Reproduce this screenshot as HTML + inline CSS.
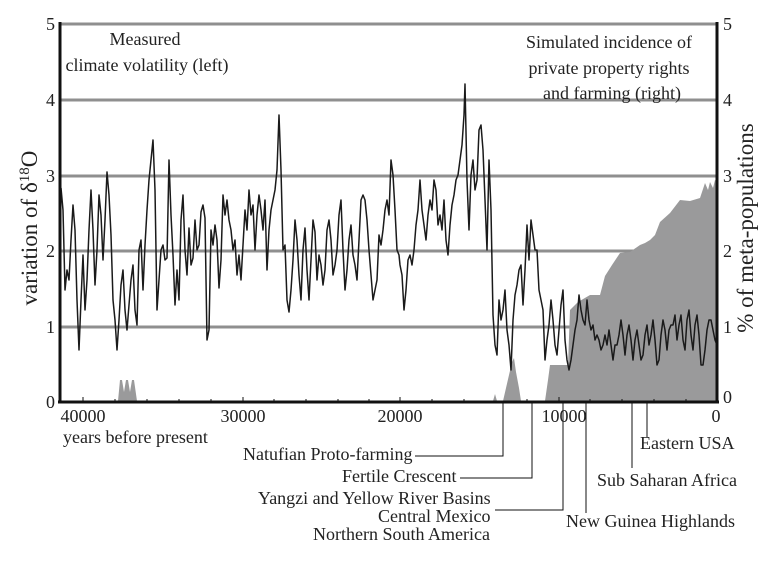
<!DOCTYPE html>
<html><head><meta charset="utf-8"><style>
html,body{margin:0;padding:0;background:#fff;width:772px;height:568px;overflow:hidden}
svg{display:block}
svg text{font-family:"Liberation Serif","Times New Roman","DejaVu Serif",serif;fill:#222}
</style></head><body>
<svg width="772" height="568" viewBox="0 0 772 568" xmlns="http://www.w3.org/2000/svg" font-family="'Liberation Serif', 'Times New Roman', 'DejaVu Serif', serif">
<g stroke="#8f8f8f" stroke-width="3">
<line x1="60" y1="24" x2="717" y2="24"/>
<line x1="60" y1="100" x2="717" y2="100"/>
<line x1="60" y1="176" x2="717" y2="176"/>
<line x1="60" y1="251" x2="717" y2="251"/>
<line x1="60" y1="327" x2="717" y2="327"/>
</g>
<g fill="#9a9a9b">
<polygon points="118,401 120,380 122,380 124,392 126,380 128,380 130,392 132,380 134,380 137,401"/>
<polygon points="493,401 495,394 497,401 503,401 506,388 509,375 512,362 514,358 516,372 519,388 521,401"/>
<polygon points="545,401 548,380 550,365 568,365 570,310 578,302 590,295 600,295 605,276 612,265 620,253 630,252 640,245 645,243 650,240 655,235 660,222 670,213 680,200 690,201 700,198 705,183 708,190 710,182 713,188 715,180 717,182 717,401"/>
</g>
<polyline fill="none" stroke="#1a1a1a" stroke-width="1.5" stroke-linejoin="round" points="61,188 63,210 65,290 67,270 69,280 71,240 73,205 75,230 77,300 79,350 81,300 83,255 85,310 87,280 89,230 91,190 93,230 95,285 97,250 99,195 101,215 103,260 105,220 107,172 109,195 111,235 113,300 115,320 117,350 119,320 121,285 123,270 125,310 127,330 129,305 131,280 133,265 135,310 137,325 139,250 141,240 143,290 145,245 147,210 149,180 151,160 153,140 155,190 157,310 159,280 161,250 163,245 165,260 167,258 169,160 171,215 173,255 175,305 177,270 179,300 181,220 183,195 185,250 187,275 189,228 191,265 193,258 195,220 197,250 199,245 201,212 203,205 205,218 207,340 209,330 211,230 213,245 215,225 217,240 219,288 221,260 223,195 225,215 227,200 229,220 231,230 233,250 235,240 237,275 239,255 241,280 243,245 245,210 247,230 249,190 251,215 253,205 255,250 257,215 259,195 261,210 263,230 265,200 267,270 269,230 271,210 273,200 275,190 277,170 279,115 281,170 283,250 285,245 287,300 289,312 291,290 293,260 295,220 297,240 299,275 301,300 303,250 305,228 307,270 309,300 311,260 313,220 315,232 317,280 319,255 321,265 323,285 325,270 327,230 329,220 331,240 333,275 335,265 337,250 339,215 341,200 343,250 345,290 347,270 349,240 351,225 353,255 355,265 357,280 359,240 361,200 363,195 365,200 367,220 369,250 371,275 373,300 375,290 377,280 379,235 381,245 383,230 385,210 387,200 389,215 391,160 393,175 395,210 397,250 399,255 400,265 402,275 404,310 406,290 408,260 410,255 412,265 414,250 416,225 418,210 420,180 422,210 424,225 426,240 428,215 430,200 432,210 434,180 436,190 438,225 440,215 442,230 444,200 446,240 448,255 450,225 452,205 454,195 456,180 458,175 460,160 462,145 464,115 465,84 467,180 469,230 471,175 473,160 475,190 477,180 479,130 481,125 483,150 485,200 487,250 489,160 491,210 493,315 495,345 497,355 499,300 501,320 503,310 505,290 507,330 509,345 511,370 513,320 515,295 517,285 519,270 521,265 523,305 525,270 527,225 529,260 531,220 533,235 535,250 537,250 539,290 541,300 543,310 545,360 547,340 549,325 551,300 553,320 555,345 557,355 559,330 561,305 563,290 565,340 567,360 569,370 571,360 573,345 575,330 577,320 579,295 581,310 583,320 585,325 587,300 589,320 591,330 593,325 595,340 597,335 599,340 601,350 603,345 605,335 607,345 609,330 611,345 613,360 615,345 617,345 619,335 621,320 623,335 625,355 627,335 629,325 631,340 633,360 635,340 637,330 639,345 641,360 643,355 645,335 647,325 649,345 651,335 653,320 655,340 657,365 659,360 661,335 663,320 665,330 667,350 669,330 671,325 673,325 675,315 677,340 679,325 681,315 683,340 685,350 687,320 689,310 691,335 693,350 695,325 697,315 699,335 701,365 703,365 705,350 707,330 709,320 711,320 713,330 715,340 717,345"/>
<g stroke="#111">
<line x1="60" y1="22" x2="60" y2="403" stroke-width="3"/>
<line x1="717" y1="22" x2="717" y2="403" stroke-width="3"/>
<line x1="58" y1="402" x2="719" y2="402" stroke-width="3"/>
<g stroke-width="1">
<line x1="83" y1="402" x2="83" y2="397"/><line x1="243" y1="402" x2="243" y2="397"/>
<line x1="400" y1="402" x2="400" y2="397"/><line x1="559" y1="402" x2="559" y2="397"/>
<line x1="115" y1="402" x2="115" y2="399"/><line x1="147" y1="402" x2="147" y2="399"/><line x1="179" y1="402" x2="179" y2="399"/><line x1="211" y1="402" x2="211" y2="399"/>
<line x1="274" y1="402" x2="274" y2="399"/><line x1="306" y1="402" x2="306" y2="399"/><line x1="338" y1="402" x2="338" y2="399"/><line x1="369" y1="402" x2="369" y2="399"/>
<line x1="432" y1="402" x2="432" y2="399"/><line x1="464" y1="402" x2="464" y2="399"/><line x1="527" y1="402" x2="527" y2="399"/>
<line x1="590" y1="402" x2="590" y2="399"/><line x1="622" y1="402" x2="622" y2="399"/><line x1="654" y1="402" x2="654" y2="399"/><line x1="686" y1="402" x2="686" y2="399"/>
</g>
<g stroke-width="1" fill="none">
<polyline points="503,402 503,456 415,456"/>
<polyline points="532,402 532,478 460,478"/>
<polyline points="563,402 563,510 495,510"/>
<line x1="586" y1="402" x2="586" y2="513"/>
<line x1="632" y1="402" x2="632" y2="468"/>
<line x1="647" y1="402" x2="647" y2="437"/>
</g>
</g>
<g font-size="18" text-anchor="end">
<text x="55" y="30">5</text><text x="55" y="106">4</text><text x="55" y="182">3</text><text x="55" y="257">2</text><text x="55" y="333">1</text><text x="55" y="408">0</text>
</g>
<g font-size="18">
<text x="723" y="30">5</text><text x="723" y="106">4</text><text x="723" y="182">3</text><text x="723" y="257">2</text><text x="723" y="333">1</text><text x="723" y="403">0</text>
</g>
<g font-size="18" text-anchor="middle">
<text x="83" y="422">40000</text><text x="243" y="422">30000</text><text x="400" y="422">20000</text><text x="564" y="422">10000</text><text x="716" y="422">0</text>
</g>
<text x="63" y="443" font-size="18">years before present</text>
<text transform="translate(37,228) rotate(-90)" text-anchor="middle" font-size="23">variation of δ<tspan font-size="15" dy="-8">18</tspan><tspan dy="8">O</tspan></text>
<text transform="translate(753,228) rotate(-90)" text-anchor="middle" font-size="23">% of meta-populations</text>
<g font-size="18" text-anchor="middle">
<text x="145" y="45">Measured</text>
<text x="147" y="71">climate volatility (left)</text>
<text x="609" y="48">Simulated incidence of</text>
<text x="609" y="74">private property rights</text>
<text x="612" y="99">and farming (right)</text>
</g>
<g font-size="18">
<text x="243" y="460">Natufian Proto-farming</text>
<text x="342" y="482">Fertile Crescent</text>
<text x="258" y="504">Yangzi and Yellow River Basins</text>
<text x="378" y="522">Central Mexico</text>
<text x="313" y="540">Northern South America</text>
<text x="566" y="527">New Guinea Highlands</text>
<text x="597" y="486">Sub Saharan Africa</text>
<text x="640" y="449">Eastern USA</text>
</g>
</svg>
</body></html>
